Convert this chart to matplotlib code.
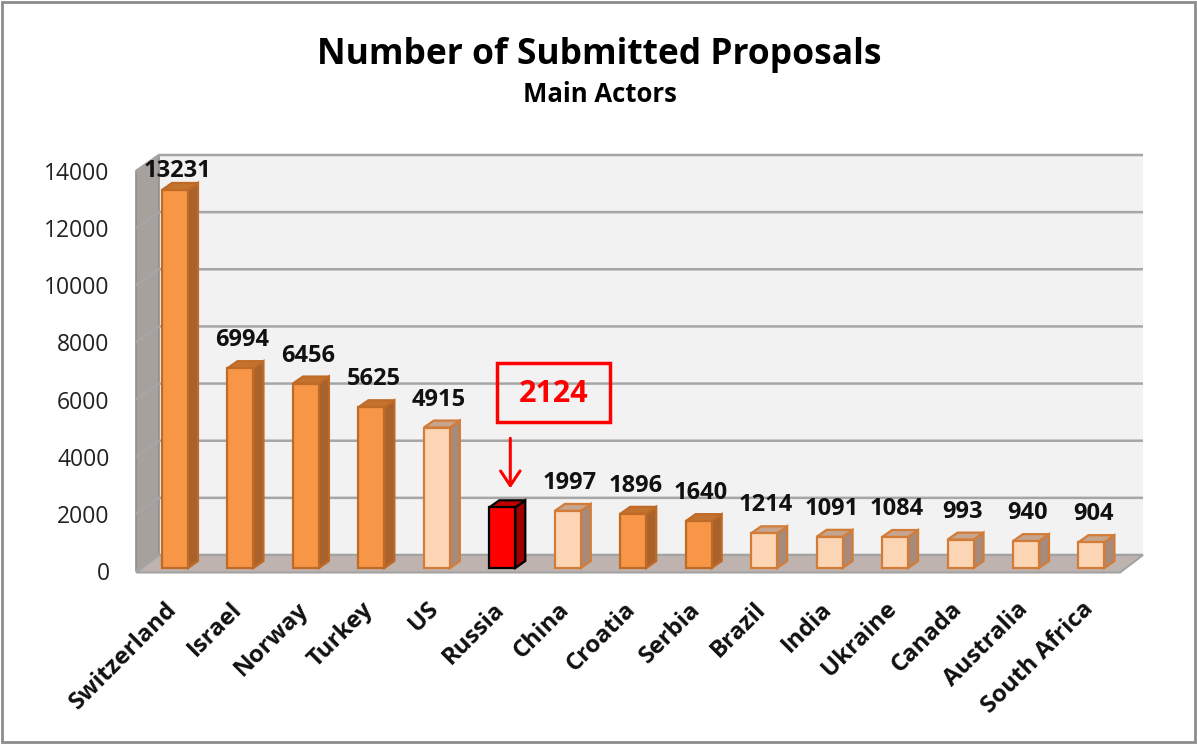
import matplotlib
matplotlib.use('Agg')
import matplotlib.pyplot as plt
from matplotlib.patches import Polygon, Rectangle
import matplotlib.transforms as mtransforms

# ---------------- data ----------------
categories = ['Switzerland', 'Israel', 'Norway', 'Turkey', 'US', 'Russia', 'China',
              'Croatia', 'Serbia', 'Brazil', 'India', 'Ukraine', 'Canada',
              'Australia', 'South Africa']
values = [13231, 6994, 6456, 5625, 4915, 2124, 1997, 1896, 1640, 1214, 1091,
          1084, 993, 940, 904]
groups = ['dark', 'dark', 'dark', 'dark', 'light', 'highlight', 'light', 'dark',
          'dark', 'light', 'light', 'light', 'light', 'light', 'light']
y_ticks = [0, 2000, 4000, 6000, 8000, 10000, 12000, 14000]
title = 'Number of Submitted Proposals'
subtitle = 'Main Actors'
highlight_index = 5

# ---------------- styles ----------------
styles = {
    'dark':      dict(front='#F79646', side='#A9622B', top='#C4732F', edge='#C06A28'),
    'light':     dict(front='#FCD5B5', side='#A88A7A', top='#C6A48E', edge='#D27C38'),
    'highlight': dict(front='#FF0000', side='#9E0000', top='#C00000', edge='#000000'),
}
FONT = 'Open Sans'
plt.rcParams['font.family'] = [FONT, 'DejaVu Sans']

W, H, DPI = 1197, 744, 100
fig = plt.figure(figsize=(W / DPI, H / DPI), dpi=DPI)
fig.patch.set_facecolor('white')

# layout (pixels)
x0_px, step_px = 175.0, 65.46
left_px, right_px = 136.0, 1120.0
y0_px, ytop_px = 571.0, 171.0
ymax = 14000
xmin = (left_px - x0_px) / step_px
xmax = (right_px - x0_px) / step_px
ax = fig.add_axes([left_px / W, 1 - y0_px / H, (right_px - left_px) / W,
                   (y0_px - ytop_px) / H])
ax.set_xlim(xmin, xmax)
ax.set_ylim(0, ymax)
ux = 1.0 / step_px                 # data units per px (x)
uy = ymax / (y0_px - ytop_px)      # data units per px (y)

# walls
wdx, wdy = 23 * ux, 16 * uy
back = Polygon([(xmin + wdx, wdy), (xmax + wdx, wdy), (xmax + wdx, ymax + wdy),
                (xmin + wdx, ymax + wdy)], closed=True, fc='#F2F2F2', ec='none',
               zorder=0, clip_on=False)
ax.add_patch(back)
leftwall = Polygon([(xmin, 0), (xmin, ymax), (xmin + wdx, ymax + wdy),
                    (xmin + wdx, wdy)], closed=True, fc='#A6A19D', ec='#8E8E8E',
                   lw=1.2, zorder=1, clip_on=False)
ax.add_patch(leftwall)
for t in y_ticks:
    ax.plot([xmin, xmin + wdx, xmax + wdx], [t, t + wdy, t + wdy],
            color='#A6A6A6', lw=1.8, zorder=2, clip_on=False,
            solid_capstyle='butt')
floor = Polygon([(xmin, -1.5 * uy), (xmax, -1.5 * uy), (xmax + wdx, wdy),
                 (xmin + wdx, wdy)], closed=True, fc='#BEB3AE', ec='#A3A3A3',
                lw=1.5, zorder=3, clip_on=False)
ax.add_patch(floor)

# bars
bw = 26 * ux
bdx, bdy = 10 * ux, 7 * uy
base = 3 * uy
gap = 22 * uy
label_cap = (y0_px - 177) * uy
for i, (v, g) in enumerate(zip(values, groups)):
    s = styles[g]
    lw = 1.6
    ax.bar(i, v, width=bw, bottom=base, color=s['front'], edgecolor=s['edge'],
           linewidth=lw, zorder=6)
    xr, xl = i + bw / 2, i - bw / 2
    top = v + base
    side = Polygon([(xr, base), (xr + bdx, base + bdy), (xr + bdx, top + bdy),
                    (xr, top)], closed=True, fc=s['side'], ec=s['edge'],
                   lw=lw, zorder=5)
    ax.add_patch(side)
    tp = Polygon([(xl, top), (xr, top), (xr + bdx, top + bdy),
                  (xl + bdx, top + bdy)], closed=True, fc=s['top'], ec=s['edge'],
                 lw=lw, zorder=5)
    ax.add_patch(tp)
    if i == highlight_index:
        continue
    ly = min(top + gap, label_cap)
    ax.text(i + 2 * ux, ly, f'{v}', ha='center', va='baseline', fontsize=17,
            fontweight='bold', color='#111111', zorder=8)

# highlighted label box + arrow
hv = values[highlight_index] + base
bx_c, by_c = highlight_index + 51 * ux, hv + 115 * uy
bwid, bhgt = 113 * ux, 59 * uy
ax.add_patch(Rectangle((bx_c - bwid / 2, by_c - bhgt / 2), bwid, bhgt,
                       fill=False, ec='#FF0000', lw=2.5, zorder=9, clip_on=False))
ax.text(bx_c, by_c - 10 * uy, f'{values[highlight_index]}', ha='center',
        va='baseline', fontsize=22, fontweight='bold', color='#FF0000', zorder=9)
ax.annotate('', xy=(highlight_index + 8 * ux, hv + 19 * uy),
            xytext=(highlight_index + 8 * ux, hv + 69 * uy),
            arrowprops=dict(arrowstyle='->,head_length=1.05,head_width=0.7',
                            color='#FF0000', lw=2.2, mutation_scale=10,
                            shrinkA=0, shrinkB=0), zorder=9)

# axes cosmetics
for sp in ax.spines.values():
    sp.set_visible(False)
ax.set_yticks(y_ticks)
ax.set_yticklabels([str(t) for t in y_ticks])
ax.tick_params(axis='y', length=0, pad=19, labelsize=16.5, labelcolor='#222222')
ax.set_xticks(range(len(categories)))
ax.set_xticklabels(categories, rotation=45, ha='right', va='top',
                   rotation_mode='anchor', fontsize=17.3, fontweight='bold',
                   color='#111111')
ax.tick_params(axis='x', length=0, pad=19)
off = mtransforms.ScaledTranslation(-0.10, 0, fig.dpi_scale_trans)
for lab in ax.get_xticklabels():
    lab.set_transform(lab.get_transform() + off)
ax.patch.set_visible(False)

# titles
fig.text(0.501, 1 - 64 / H, title, ha='center', va='baseline', fontsize=25.5,
         fontweight='bold', color='#000000')
fig.text(0.501, 1 - 102 / H, subtitle, ha='center', va='baseline', fontsize=18.5,
         fontweight='bold', color='#000000')

# outer border
fig.patches.append(Rectangle((2 / W, 2 / H), 1193 / W, 740 / H, fill=False,
                             ec='#8C8C8C', lw=2, transform=fig.transFigure,
                             figure=fig))

fig.savefig('out.png', dpi=DPI)
